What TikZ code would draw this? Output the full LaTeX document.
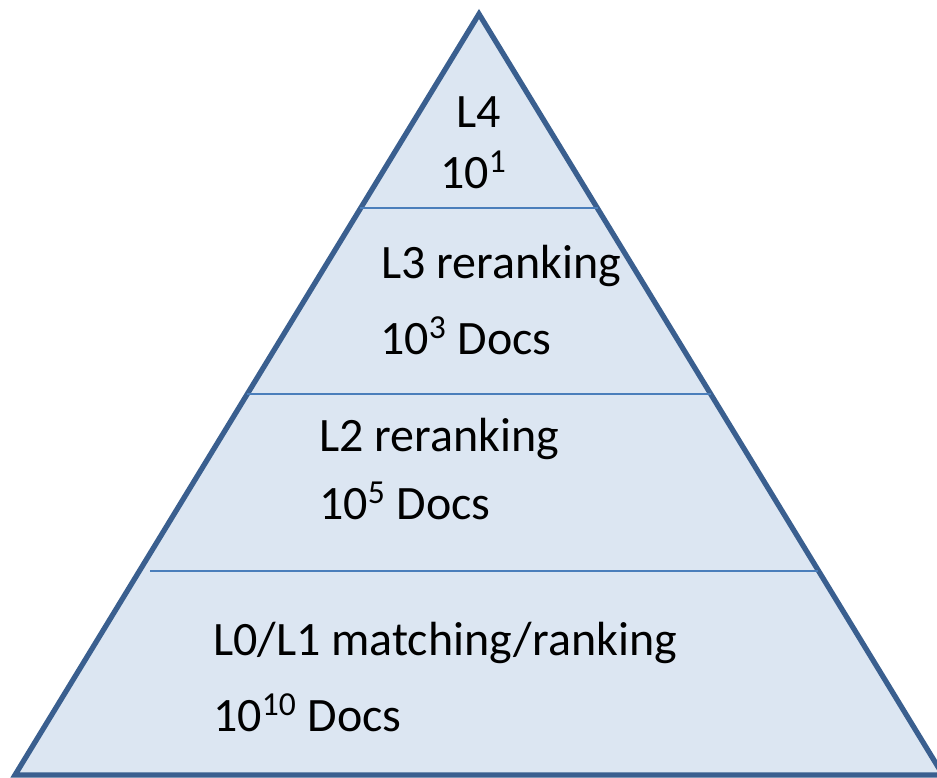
\documentclass[tikz,border=0pt]{standalone}
\usepackage{fontspec}
\setmainfont{Carlito}
\definecolor{rimblue}{HTML}{3A5F8F}
\definecolor{cutblue}{HTML}{4A7EBB}
\definecolor{paleblue}{HTML}{DCE6F2}
\tikzset{
	stage/.style={font=\fontsize{27.3}{32}\selectfont, anchor=base west, inner sep=0pt},
	cut/.style={draw=cutblue, line width=1.1pt}
}
\begin{document}
\begin{tikzpicture}[x=0.02cm,y=-0.02cm]
		\clip (0,0) rectangle (937,778);
		\coordinate (A) at (479,14); \coordinate (B) at (15,775); \coordinate (C) at (943,775);
		\filldraw[fill=paleblue, draw=rimblue, line width=3pt] (A) -- (B) -- (C) -- cycle;
		% cuts between the levels
		\coordinate (c1l) at (360,208); \coordinate (c1r) at (598,208);
		\coordinate (c2l) at (247,394); \coordinate (c2r) at (711,394);
		\coordinate (c3l) at (150,571); \coordinate (c3r) at (818,571);
		\draw[cut] (c1l) -- (c1r); \draw[cut] (c2l) -- (c2r); \draw[cut] (c3l) -- (c3r);
		% labels
		\node[stage] (l4) at (456,127) {L4};
		\node[stage] (l4n) at (440,188) {10\textsuperscript{1}};
		\node[stage] (l3) at (381,278) {L3 reranking};
		\node[stage] (l3n) at (380,354) {10\textsuperscript{3} Docs};
		\node[stage] (l2) at (319,451) {L2 reranking};
		\node[stage] (l2n) at (319,519) {10\textsuperscript{5} Docs};
		\node[stage] (l1) at (213,655) {L0/L1 matching/ranking};
		\node[stage] (l1n) at (213,731) {10\textsuperscript{10} Docs};
	\end{tikzpicture}
\end{document}
